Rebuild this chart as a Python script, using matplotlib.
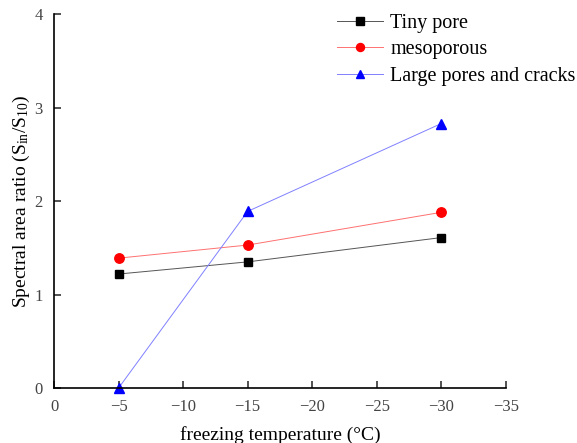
import matplotlib
matplotlib.use("Agg")
from matplotlib import pyplot as plt

plt.rcParams["font.family"] = ["Liberation Serif", "DejaVu Serif"]
plt.rcParams["mathtext.fontset"] = "custom"
plt.rcParams["mathtext.rm"] = "Liberation Serif"
plt.rcParams["mathtext.it"] = "Liberation Serif:italic"

temps = [-5, -15, -30]
tiny_pore = [1.22, 1.35, 1.61]
mesoporous = [1.39, 1.53, 1.88]
large_pores = [0.0, 1.89, 2.83]

fig = plt.figure(figsize=(5.77, 4.43), dpi=100)
ax = fig.add_axes([0.0936, 0.124, 0.783, 0.844])

ax.plot(temps, tiny_pore, color="#555555", lw=0.7, marker="s", ms=6,
        mfc="black", mec="black", label="Tiny pore")
ax.plot(temps, mesoporous, color="#ff7070", lw=0.7, marker="o", ms=6.8,
        mfc="red", mec="red", label="mesoporous")
ax.plot(temps, large_pores, color="#8080ff", lw=0.7, marker="^", ms=7.5,
        mfc="blue", mec="blue", label="Large pores and cracks", clip_on=False)

ax.set_xlim(0, -35)
ax.set_ylim(0, 4)
ax.set_xticks([0, -5, -10, -15, -20, -25, -30, -35])
ax.set_xticklabels(["0", "\u22125", "\u221210", "\u221215", "\u221220", "\u221225", "\u221230", "\u221235"])
ax.set_yticks([0, 1, 2, 3, 4])

for s in ["top", "right"]:
    ax.spines[s].set_visible(False)
for s in ["left", "bottom"]:
    ax.spines[s].set_linewidth(1.2)
ax.tick_params(direction="in", length=5, width=1.2, labelsize=12, pad=8,
               colors="#333333", labelcolor="#444444")

ax.set_xlabel("freezing temperature (\u00b0C)", fontsize=14, labelpad=8)
ax.set_ylabel("Spectral area ratio (S$_{\\rm in}$/S$_{10}$)", fontsize=14, labelpad=2)

ax.legend(loc="upper left", bbox_to_anchor=(337 / 577, 1 - 14 / 443),
          bbox_transform=fig.transFigure, frameon=False, fontsize=14.5,
          borderpad=0, borderaxespad=0, handlelength=2.3, labelspacing=0.36,
          handletextpad=0.35, markerscale=0.85)

plt.savefig("out.png", dpi=100)
plt.close()
